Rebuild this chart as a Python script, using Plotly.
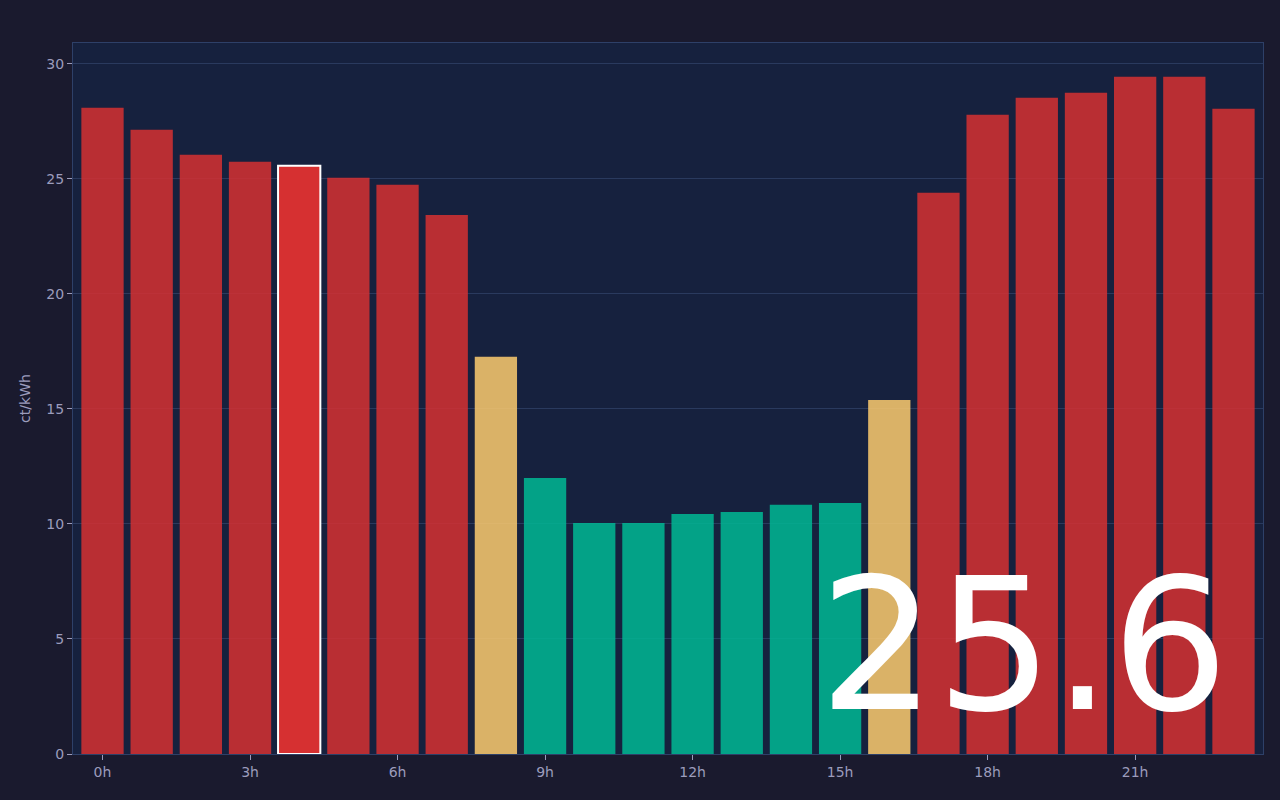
import plotly.graph_objects as go

hours = list(range(24))
prices = [28.09, 27.13, 26.04, 25.74, 25.57, 25.04, 24.74, 23.43,
          17.26, 12.0, 10.04, 10.04, 10.43, 10.52, 10.83, 10.91,
          15.39, 24.39, 27.78, 28.52, 28.74, 29.43, 29.43, 28.04]
levels = ["high"] * 8 + ["mid"] + ["low"] * 7 + ["mid"] + ["high"] * 7
current_hour = 4
current_label = "25.6"
tick_hours = [0, 3, 6, 9, 12, 15, 18, 21]
tick_labels = [f"{h}h" for h in tick_hours]

level_colors = {"high": "#d63031", "mid": "#fdcb6e", "low": "#00b894"}
colors = [level_colors[l] for l in levels]
opac = [1.0 if h == current_hour else 0.85 for h in hours]
line_w = [2 if h == current_hour else 0 for h in hours]

fig = go.Figure(go.Bar(
    x=hours, y=prices,
    marker=dict(color=colors, opacity=opac,
                line=dict(color="white", width=line_w)),
    hoverinfo="x+y",
))

fig.add_annotation(
    text=current_label, xref="paper", yref="paper",
    x=0.973, y=0.0, xanchor="right", yanchor="bottom",
    showarrow=False,
    font=dict(family="DejaVu Sans", size=184, color="white"),
)

fig.update_layout(
    width=1280, height=800,
    paper_bgcolor="#1a1a2e", plot_bgcolor="#16213e",
    margin=dict(l=73, r=17, t=43, b=46),
    bargap=0.14,
    showlegend=False,
    font=dict(family="DejaVu Sans", size=14, color="#9c9cbc"),
    xaxis=dict(range=[-0.6, 23.6], tickvals=tick_hours, ticktext=tick_labels,
               showgrid=False, zeroline=False, ticks="outside", ticklen=5,
               tickcolor="#9c9cbc", showline=True, linecolor="#2e4068",
               mirror=True, linewidth=1),
    yaxis=dict(range=[0, 30.9], dtick=5, title=dict(text="ct/kWh", font=dict(size=14), standoff=12),
               gridcolor="#2a3a5e", zeroline=False, ticks="outside", ticklen=5,
               tickcolor="#9c9cbc", showline=True, linecolor="#2e4068",
               mirror=True, linewidth=1),
)

fig.write_html("out.html", config={"displayModeBar": False})

with open("out.html", "r", encoding="utf-8") as f:
    html = f.read()
html = html.replace("<head>", "<head><style>html,body{margin:0;padding:0;background:#1a1a2e;overflow:hidden;}</style>", 1)
with open("out.html", "w", encoding="utf-8") as f:
    f.write(html)
